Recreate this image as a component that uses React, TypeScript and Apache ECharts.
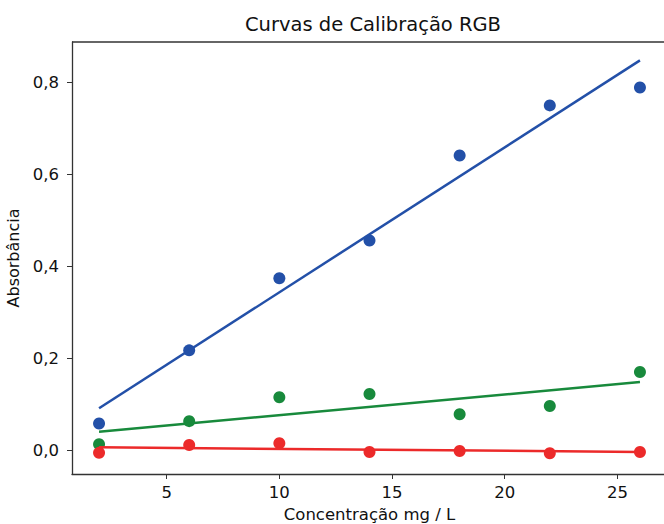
import React, { useEffect, useRef } from "react";
import * as echarts from "echarts";

const concentrations = [2, 6, 10, 14, 18, 22, 26];
const blueValues = [0.058, 0.217, 0.374, 0.456, 0.641, 0.75, 0.789];
const greenValues = [0.013, 0.063, 0.115, 0.122, 0.078, 0.096, 0.17];
const redValues = [-0.006, 0.011, 0.015, -0.004, -0.002, -0.007, -0.004];
const fitX = [2, 26];
const blueFit = [0.091, 0.848];
const greenFit = [0.04, 0.148];
const redFit = [0.006, -0.004];
const xTicks = [5, 10, 15, 20, 25];
const yTicks = [0, 0.2, 0.4, 0.6, 0.8];

const BLUE = "#2350a8";
const GREEN = "#188a3c";
const RED = "#ec2a2a";
const FONT = "DejaVu Sans";

function pairs(xs: number[], ys: number[]) {
  return xs.map((x, i) => [x, ys[i]]);
}

export default function App() {
  const ref = useRef<HTMLDivElement>(null);
  useEffect(() => {
    if (!ref.current) return;
    const chart = echarts.init(ref.current, undefined, { renderer: "svg" });
    const scatter = (name: string, ys: number[], color: string, z: number) => ({
      name,
      type: "scatter",
      data: pairs(concentrations, ys),
      symbol: "circle",
      symbolSize: 12,
      itemStyle: { color, opacity: 1 },
      z,
    });
    const fit = (name: string, ys: number[], color: string, z: number) => ({
      name,
      type: "line",
      data: pairs(fitX, ys),
      symbol: "none",
      lineStyle: { color, width: 2.5 },
      z,
    });
    chart.setOption({
      animation: false,
      backgroundColor: "#ffffff",
      title: {
        text: "Curvas de Calibração RGB",
        left: 368,
        top: 9,
        textAlign: "center",
        textStyle: { fontFamily: FONT, fontSize: 19.5, fontWeight: "normal", color: "#111" },
      },
      grid: { left: 72, top: 42, width: 595, height: 432, containLabel: false, outerBoundsMode: "none" },
      xAxis: {
        type: "value",
        min: 0.8,
        max: 27.2,
        name: "Concentração mg / L",
        nameLocation: "middle",
        nameGap: 30,
        nameTextStyle: { fontFamily: FONT, fontSize: 16.5, color: "#111" },
        axisLine: { show: true, onZero: false, lineStyle: { color: "#333", width: 1.3 } },
        axisTick: { show: true, customValues: xTicks, length: 5, lineStyle: { color: "#333" } },
        axisLabel: {
          customValues: xTicks,
          fontFamily: FONT,
          fontSize: 16.5,
          color: "#111",
          margin: 10,
        },
        splitLine: { show: false },
      },
      yAxis: {
        type: "value",
        min: -0.052,
        max: 0.888,
        name: "Absorbância",
        nameLocation: "middle",
        nameGap: 44,
        nameTextStyle: { fontFamily: FONT, fontSize: 16, color: "#111" },
        axisLine: { show: true, onZero: false, lineStyle: { color: "#333", width: 1.3 } },
        axisTick: { show: true, customValues: yTicks, length: 5, lineStyle: { color: "#333" } },
        axisLabel: {
          customValues: yTicks,
          fontFamily: FONT,
          fontSize: 16.5,
          color: "#111",
          margin: 13,
          formatter: (v: number) => v.toFixed(1).replace(".", ","),
        },
        splitLine: { show: false },
      },
      graphic: [
        {
          type: "line",
          shape: { x1: 72, y1: 42, x2: 668, y2: 42 },
          style: { stroke: "#333", lineWidth: 1.3 },
          z: 10,
        },
      ],
      series: [
        scatter("B", blueValues, BLUE, 2),
        fit("B fit", blueFit, BLUE, 3),
        scatter("G", greenValues, GREEN, 4),
        fit("G fit", greenFit, GREEN, 5),
        scatter("R", redValues, RED, 6),
        fit("R fit", redFit, RED, 7),
      ],
    });
    return () => chart.dispose();
  }, []);
  return <div ref={ref} style={{ width: 664, height: 524, position: "absolute", left: 0, top: 0 }} />;
}
